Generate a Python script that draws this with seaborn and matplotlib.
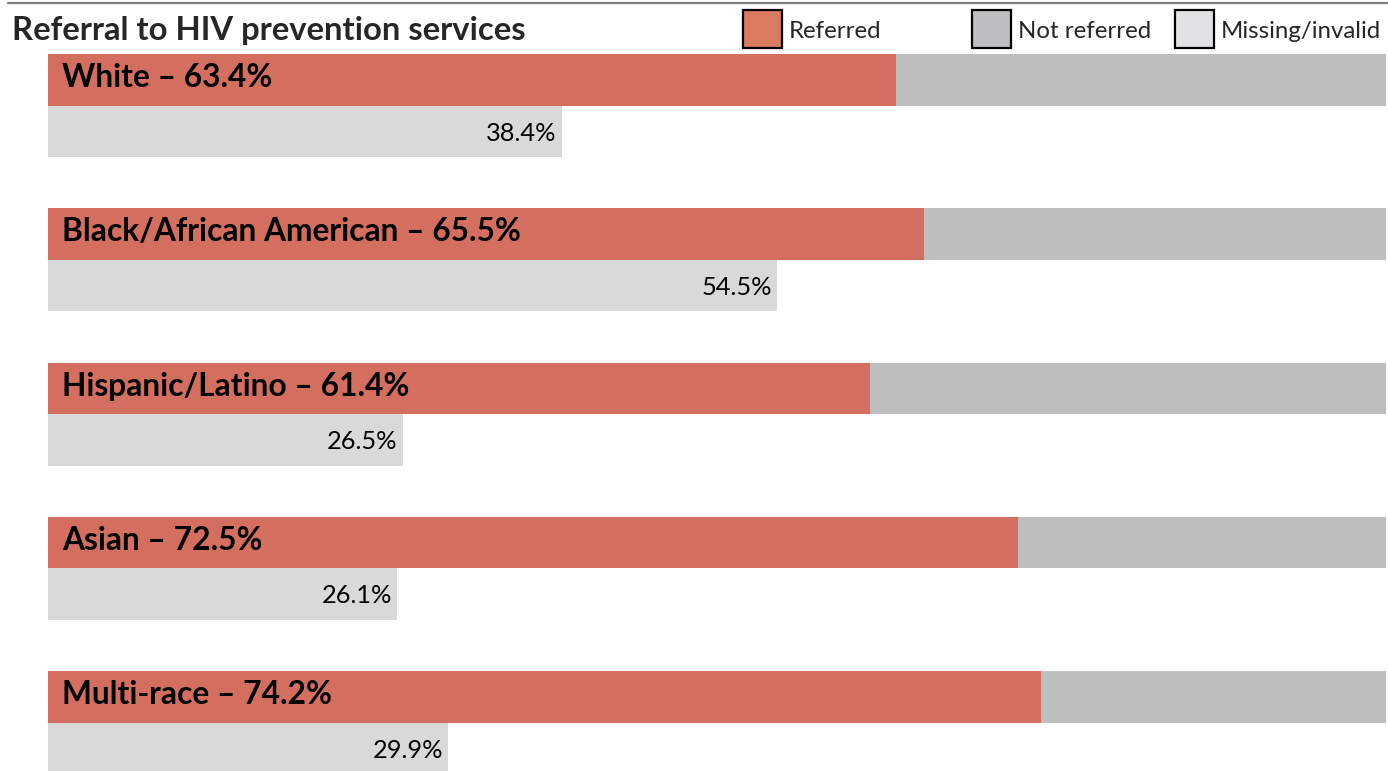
import matplotlib
matplotlib.use("Agg")
import matplotlib.pyplot as plt
from matplotlib.patches import Rectangle
from matplotlib.lines import Line2D
import pandas as pd
import seaborn as sns

# data
groups = ['White', 'Black/African American', 'Hispanic/Latino', 'Asian', 'Multi-race']
referred = [63.4, 65.5, 61.4, 72.5, 74.2]
missing = [38.4, 54.5, 26.5, 26.1, 29.9]
legend_labels = ['Referred', 'Not referred', 'Missing/invalid']
title = 'Referral to HIV prevention services'

C_REF = '#D46E5E'
C_NOT = '#BEBEBE'
C_MISS = '#D9D9D9'
LEG_COLORS = ['#D97B5F', '#BDBEC0', '#E1E2E4']

sns.set_theme(style='white')
plt.rcParams['font.family'] = ['Lato', 'DejaVu Sans']

W, H = 1388, 771
fig = plt.figure(figsize=(W / 100, H / 100), dpi=100)
ax = fig.add_axes([48 / W, 0, 1338 / W, (H - 54) / H])

n = len(groups)
slots = ['top'] * n + ['bottom'] * n
back = pd.DataFrame({'group': groups * 2, 'slot': slots, 'value': [100] * n + missing})
front = pd.DataFrame({'group': groups * 2, 'slot': slots, 'value': referred + [0] * n})

bar_kw = dict(x='value', y='group', hue='slot', hue_order=['top', 'bottom'], orient='h',
              width=0.668, dodge=True, errorbar=None, legend=False, saturation=1,
              linewidth=0, ax=ax)
sns.barplot(data=back, palette={'top': C_NOT, 'bottom': C_MISS}, **bar_kw)
sns.barplot(data=front, palette={'top': C_REF, 'bottom': C_MISS}, **bar_kw)

unit = 154.25  # pixels per category step
ax.set_xlim(0, 100)
ax.set_ylim(4.314, -0.334)
ax.set_axis_off()

for i, (g, r, m) in enumerate(zip(groups, referred, missing)):
    ax.text(1.05, i - 0.334 + 33 / unit, f'{g} \u2013 {r}%', fontsize=22.9, fontweight='bold',
            va='baseline', ha='left', color='black')
    ax.text(m - 0.37, i + 35 / unit, f'{m}%', fontsize=18.3, va='baseline', ha='right',
            color='black')

# title and top rule
fig.text(12 / W, 1 - 40 / H, title, fontsize=23.6, fontweight='bold', va='baseline', ha='left')
fig.add_artist(Line2D([8 / W, 1], [1 - 2.5 / H] * 2, color='#7f7f7f', lw=1.6))

# legend boxes
leg_x = [743, 972, 1175]
for x0, lab, col in zip(leg_x, legend_labels, LEG_COLORS):
    fig.add_artist(Rectangle((x0 / W, 1 - 48 / H), 39 / W, 38 / H, transform=fig.transFigure,
                             facecolor=col, edgecolor='black', lw=1.6))
    fig.text((x0 + 46) / W, 1 - 38.5 / H, lab, fontsize=17.3, va='baseline', ha='left')

fig.savefig('out.png', dpi=100)
